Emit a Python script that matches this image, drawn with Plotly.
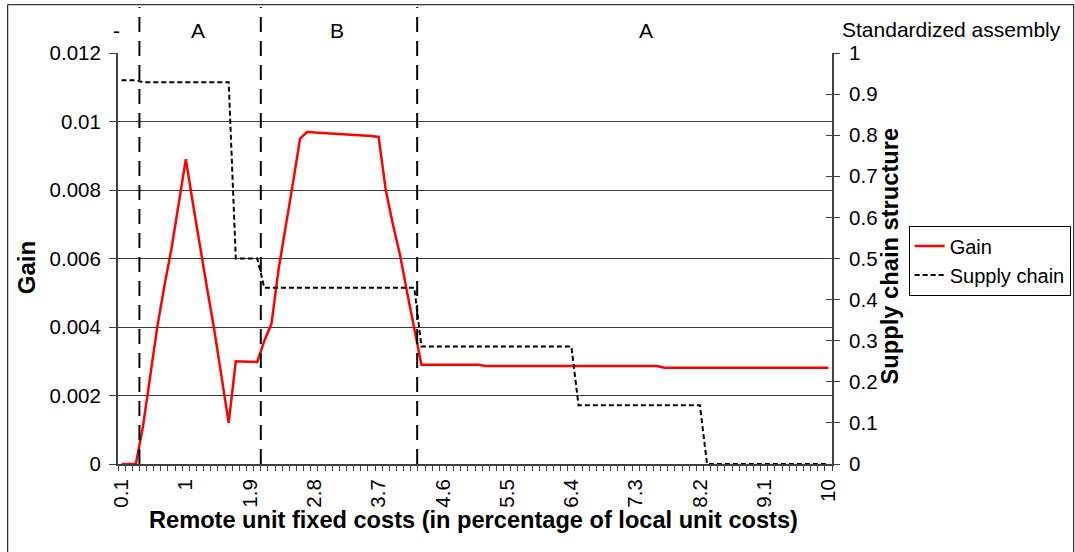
import plotly.graph_objects as go

# ---------------- data ----------------
x_values = [0.1, 0.2, 0.3, 0.4, 0.5, 0.6, 0.7, 0.8, 0.9, 1.0,
            1.1, 1.2, 1.3, 1.4, 1.5, 1.6, 1.7, 1.8, 1.9, 2.0,
            2.1, 2.2, 2.3, 2.4, 2.5, 2.6, 2.7, 2.8, 2.9, 3.0,
            3.1, 3.2, 3.3, 3.4, 3.5, 3.6, 3.7, 3.8, 3.9, 4.0,
            4.1, 4.2, 4.3, 4.4, 4.5, 4.6, 4.7, 4.8, 4.9, 5.0,
            5.1, 5.2, 5.3, 5.4, 5.5, 5.6, 5.7, 5.8, 5.9, 6.0,
            6.1, 6.2, 6.3, 6.4, 6.5, 6.6, 6.7, 6.8, 6.9, 7.0,
            7.1, 7.2, 7.3, 7.4, 7.5, 7.6, 7.7, 7.8, 7.9, 8.0,
            8.1, 8.2, 8.3, 8.4, 8.5, 8.6, 8.7, 8.8, 8.9, 9.0,
            9.1, 9.2, 9.3, 9.4, 9.5, 9.6, 9.7, 9.8, 9.9, 10.0]

gain = [0, 0, 0, 0.0011, 0.0025, 0.0040, 0.0052, 0.0063, 0.0076, 0.0089,
        0.0076, 0.0063, 0.0051, 0.0039, 0.0026, 0.0012, 0.0030, 0.0030, 0.0030, 0.00298,
        0.0036, 0.0041, 0.0057, 0.0069, 0.0082, 0.0095, 0.0097, 0.00968, 0.00967, 0.00966,
        0.00964, 0.00963, 0.00962, 0.00961, 0.0096, 0.00958, 0.00955, 0.0080, 0.0070, 0.0061,
        0.0050, 0.0039, 0.0029, 0.0029, 0.0029, 0.0029, 0.0029, 0.0029, 0.0029, 0.0029,
        0.0029, 0.00286, 0.00286, 0.00286, 0.00286, 0.00286, 0.00286, 0.00286, 0.00286, 0.00286,
        0.00286, 0.00286, 0.00286, 0.00286, 0.00286, 0.00286, 0.00286, 0.00286, 0.00286, 0.00286,
        0.00286, 0.00286, 0.00286, 0.00286, 0.00286, 0.00286, 0.00281, 0.00281, 0.00281, 0.00281,
        0.00281, 0.00281, 0.00281, 0.00281, 0.00281, 0.00281, 0.00281, 0.00281, 0.00281, 0.00281,
        0.00281, 0.00281, 0.00281, 0.00281, 0.00281, 0.00281, 0.00281, 0.00281, 0.00281, 0.00281]

supply_chain = [0.934, 0.934, 0.934, 0.929, 0.929, 0.929, 0.929, 0.929, 0.929, 0.929,
                0.929, 0.929, 0.929, 0.929, 0.929, 0.929, 0.5, 0.5, 0.5, 0.5,
                0.4286, 0.4286, 0.4286, 0.4286, 0.4286, 0.4286, 0.4286, 0.4286, 0.4286, 0.4286,
                0.4286, 0.4286, 0.4286, 0.4286, 0.4286, 0.4286, 0.4286, 0.4286, 0.4286, 0.4286,
                0.4286, 0.4286, 0.2857, 0.2857, 0.2857, 0.2857, 0.2857, 0.2857, 0.2857, 0.2857,
                0.2857, 0.2857, 0.2857, 0.2857, 0.2857, 0.2857, 0.2857, 0.2857, 0.2857, 0.2857,
                0.2857, 0.2857, 0.2857, 0.2857, 0.1429, 0.1429, 0.1429, 0.1429, 0.1429, 0.1429,
                0.1429, 0.1429, 0.1429, 0.1429, 0.1429, 0.1429, 0.1429, 0.1429, 0.1429, 0.1429,
                0.1429, 0.1429, 0, 0, 0, 0, 0, 0, 0, 0,
                0, 0, 0, 0, 0, 0, 0, 0, 0, 0]

x_tick_values = [0.1, 1.0, 1.9, 2.8, 3.7, 4.6, 5.5, 6.4, 7.3, 8.2, 9.1, 10.0]
x_tick_labels = ["0.1", "1", "1.9", "2.8", "3.7", "4.6", "5.5", "6.4", "7.3", "8.2", "9.1", "10"]
gain_tick_values = [0, 0.002, 0.004, 0.006, 0.008, 0.01, 0.012]
gain_tick_labels = ["0", "0.002", "0.004", "0.006", "0.008", "0.01", "0.012"]

region_boundaries = [0.35, 2.05, 4.24]
region_labels = ["-", "A", "B", "A"]
region_label_pos = [-0.002, 0.112, 0.307, 0.739]   # fraction of plot width

# ---------------- figure ----------------
FONT = "Liberation Sans, Arial, sans-serif"
AXIS_COLOR = "#404040"
TICK_SIZE = 20.5

fig = go.Figure()
fig.add_trace(go.Scatter(x=x_values, y=gain, name="Gain", mode="lines",
                         line=dict(color="#FF0000", width=2.5), yaxis="y"))
fig.add_trace(go.Scatter(x=x_values, y=supply_chain, name="Supply chain", mode="lines",
                         line=dict(color="#000000", width=2, dash="5px,3px"), yaxis="y2"))
# helper trace so that the inner tick marks of the right axis are drawn
fig.add_trace(go.Scatter(x=x_values, y=supply_chain, mode="lines", opacity=0,
                         showlegend=False, hoverinfo="skip", yaxis="y3"))

shapes = []
for b in region_boundaries:
    shapes.append(dict(type="line", xref="x", yref="paper", x0=b, x1=b, y0=0, y1=1.112,
                       line=dict(color="#000000", width=2, dash="15px,9px")))
# outer frame
shapes.append(dict(type="rect", xref="paper", yref="paper", x0=-0.1545, x1=1.3385,
                   y0=-0.25, y1=1.1175, line=dict(color="#000000", width=1)))

annotations = []
for lab, xv in zip(region_labels, region_label_pos):
    annotations.append(dict(text=lab, x=xv, y=1.054, xref="paper", yref="paper",
                            showarrow=False, xanchor="center", yanchor="middle",
                            font=dict(size=21, color="#000000", family=FONT)))
annotations.append(dict(text="Standardized assembly", x=1.0108, y=1.058, xref="paper", yref="paper",
                        showarrow=False, xanchor="left", yanchor="middle",
                        font=dict(size=21, color="#000000", family=FONT)))
annotations.append(dict(text="<b>Remote unit fixed costs (in percentage of local unit costs)</b>",
                        x=0.498, y=-0.136, xref="paper", yref="paper", showarrow=False,
                        xanchor="center", yanchor="middle",
                        font=dict(size=23.6, color="#000000", family=FONT)))
annotations.append(dict(text="<b>Gain</b>", x=-0.128, y=0.478, xref="paper", yref="paper",
                        showarrow=False, textangle=-90, xanchor="center", yanchor="middle",
                        font=dict(size=24, color="#000000", family=FONT)))
annotations.append(dict(text="<b>Supply chain structure</b>", x=1.081, y=0.507, xref="paper",
                        yref="paper", showarrow=False, textangle=-90, xanchor="center",
                        yanchor="middle", font=dict(size=23.7, color="#000000", family=FONT)))

fig.update_layout(
    width=1075, height=552,
    margin=dict(l=118, r=243, t=53, b=88, autoexpand=False),
    paper_bgcolor="#FFFFFF", plot_bgcolor="#FFFFFF",
    font=dict(family=FONT, size=TICK_SIZE, color="#000000"),
    showlegend=True,
    legend=dict(x=1.1074, y=0.580, xanchor="left", yanchor="top",
                bordercolor="#000000", borderwidth=1, bgcolor="#FFFFFF",
                font=dict(size=20, family=FONT, color="#000000"),
                itemwidth=30, tracegroupgap=0),
    xaxis=dict(range=[0.05, 10.05], tickmode="array", tickvals=x_tick_values,
               ticktext=x_tick_labels, tickangle=-90, ticks="outside", ticklen=5,
               tickcolor="rgba(0,0,0,0)", showgrid=False, zeroline=False,
               showline=True, linecolor=AXIS_COLOR, linewidth=2,
               tickfont=dict(size=TICK_SIZE, family=FONT, color="#000000"),
               minor=dict(tickmode="linear", tick0=0.05, dtick=0.1, ticks="outside",
                          ticklen=5, tickcolor=AXIS_COLOR, showgrid=False)),
    yaxis=dict(range=[0, 0.012], tickmode="array", tickvals=gain_tick_values,
               ticktext=gain_tick_labels, ticks="outside", ticklen=7, tickcolor=AXIS_COLOR,
               showgrid=True, gridcolor="#3a3a3a", gridwidth=1, zeroline=False,
               showline=True, linecolor=AXIS_COLOR, linewidth=2, ticklabelstandoff=4,
               tickfont=dict(size=TICK_SIZE, family=FONT, color="#000000")),
    yaxis2=dict(range=[0, 1], dtick=0.1, tick0=0, overlaying="y", side="right", anchor="x",
                ticks="outside", ticklen=6, tickcolor=AXIS_COLOR, showgrid=False,
                zeroline=False, showline=True, linecolor=AXIS_COLOR, linewidth=2,
                ticklabelstandoff=5,
                tickfont=dict(size=TICK_SIZE, family=FONT, color="#000000")),
    yaxis3=dict(range=[0, 1], dtick=0.1, tick0=0, overlaying="y", side="right", anchor="x",
                ticks="inside", ticklen=6, tickcolor=AXIS_COLOR, showgrid=False,
                zeroline=False, showline=False, showticklabels=False),
    shapes=shapes,
    annotations=annotations,
)

fig.write_html("out.html", config={"displayModeBar": False},
               post_script="document.body.style.margin='0';document.body.style.padding='0';")
